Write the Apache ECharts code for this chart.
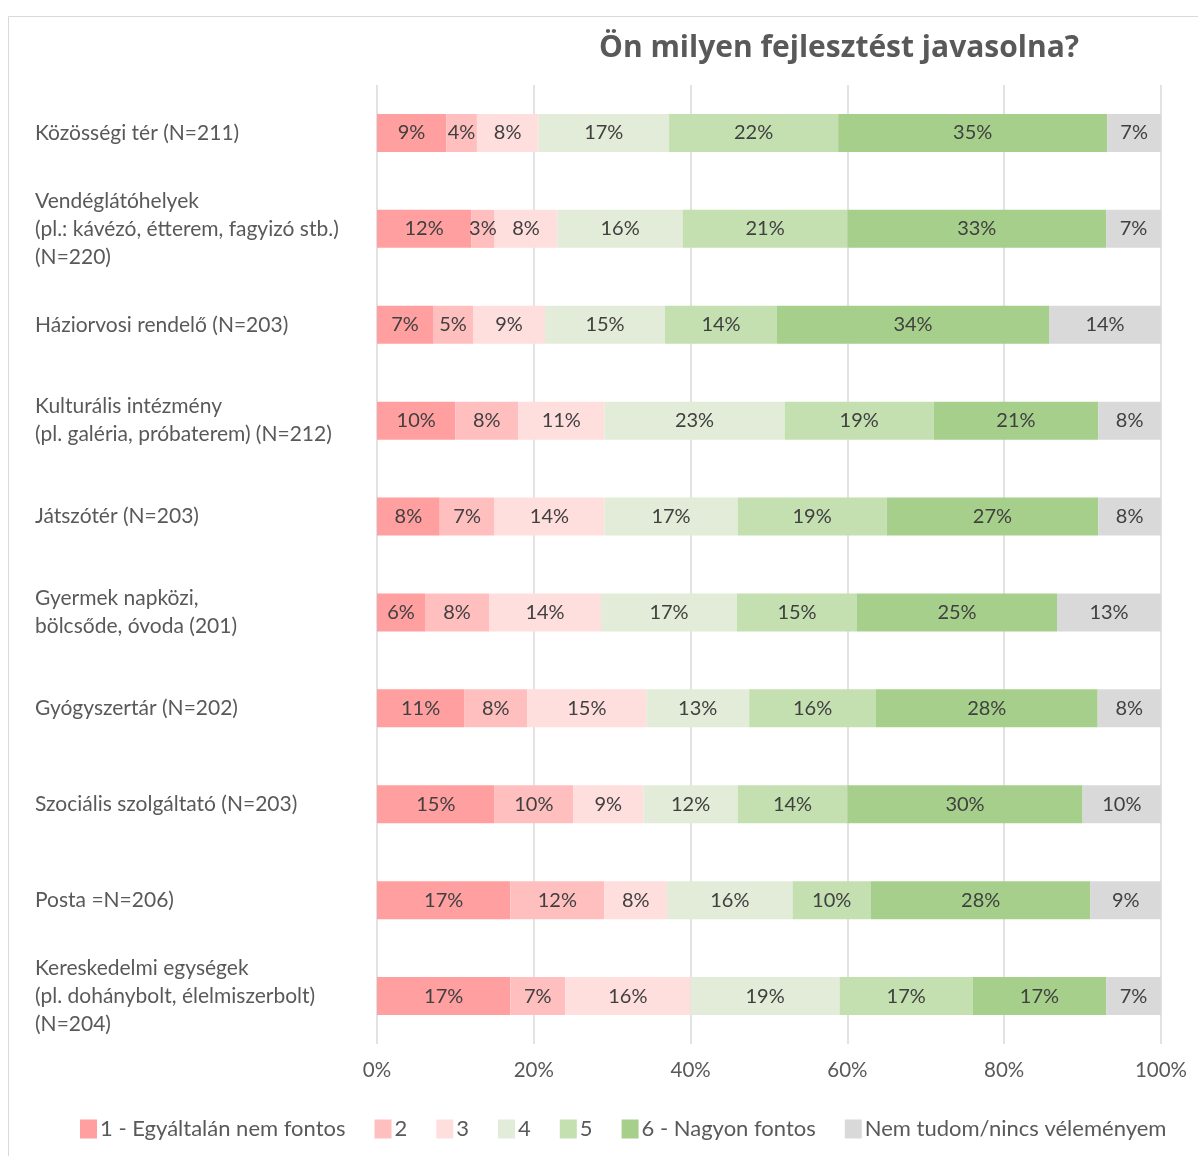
<!DOCTYPE html>
<html>
<head>
<meta charset="utf-8">
<script src="https://cdn.jsdelivr.net/npm/echarts@6/dist/echarts.min.js"></script>
<style>
  html, body { margin: 0; padding: 0; background: #fff; }
  #chart { width: 1198px; height: 1156px; }
</style>
</head>
<body>
<div id="chart"></div>
<script>
// kategóriák (fentről lefelé)
const categories = [
  'Közösségi tér (N=211)',
  'Vendéglátóhelyek\n(pl.: kávézó, étterem, fagyizó stb.)\n(N=220)',
  'Háziorvosi rendelő (N=203)',
  'Kulturális intézmény\n(pl. galéria, próbaterem) (N=212)',
  'Játszótér (N=203)',
  'Gyermek napközi,\nbölcsőde, óvoda (201)',
  'Gyógyszertár (N=202)',
  'Szociális szolgáltató (N=203)',
  'Posta =N=206)',
  'Kereskedelmi egységek\n(pl. dohánybolt, élelmiszerbolt)\n(N=204)'
];

const seriesNames = ['1 - Egyáltalán nem fontos', '2', '3', '4', '5', '6 - Nagyon fontos', 'Nem tudom/nincs véleményem'];
const colors = ['#FF9F9F', '#FFBFBF', '#FFDEDE', '#E2ECD8', '#C4DFB0', '#A6CF8B', '#D9D9D9'];

const level1 = [9, 12, 7, 10, 8, 6, 11, 15, 17, 17];
const level2 = [4, 3, 5, 8, 7, 8, 8, 10, 12, 7];
const level3 = [8, 8, 9, 11, 14, 14, 15, 9, 8, 16];
const level4 = [17, 16, 15, 23, 17, 17, 13, 12, 16, 19];
const level5 = [22, 21, 14, 19, 19, 15, 16, 14, 10, 17];
const level6 = [35, 33, 34, 21, 27, 25, 28, 30, 28, 17];
const noOpinion = [7, 7, 14, 8, 8, 13, 8, 10, 9, 7];

const xTicks = [0, 20, 40, 60, 80, 100];

const levels = [level1, level2, level3, level4, level5, level6, noOpinion];
// 100%-os halmozás: soronként normalizálva
const totals = categories.map((c, i) => levels.reduce((s, arr) => s + arr[i], 0));

const font = 'Lato, "Open Sans", sans-serif';

const chart = echarts.init(document.getElementById('chart'));
chart.setOption({
  backgroundColor: '#fff',
  animation: false,
  textStyle: { fontFamily: font },
  title: {
    text: 'Ön milyen fejlesztést javasolna?',
    left: 594,
    top: 28,
    textStyle: { fontFamily: '"Open Sans", sans-serif', fontSize: 30, fontWeight: 'bold', color: '#595959' }
  },
  graphic: [{
    type: 'rect',
    shape: { x: 8.5, y: 16.5, width: 1210, height: 1160 },
    style: { fill: 'none', stroke: '#D9D9D9', lineWidth: 1 },
    silent: true
  }],
  legend: {
    data: seriesNames,
    left: 75,
    top: 1113,
    icon: 'rect',
    itemWidth: 17,
    itemHeight: 19,
    itemGap: 29,
    textStyle: { fontFamily: font, fontSize: 22, color: '#595959', padding: [0, 0, 0, -2] }
  },
  grid: { left: 377, right: 37, top: 85, height: 959 },
  xAxis: {
    type: 'value',
    min: 0,
    max: 100,
    interval: 20,
    axisLine: { show: false },
    axisTick: { show: false },
    splitLine: { lineStyle: { color: '#D9D9D9', width: 1.5 } },
    axisLabel: {
      formatter: v => (xTicks.includes(v) ? v + '%' : ''),
      fontFamily: font,
      fontSize: 20.5,
      color: '#595959',
      margin: 16
    }
  },
  yAxis: {
    type: 'category',
    data: categories,
    inverse: true,
    axisLine: { show: false },
    axisTick: { show: false },
    axisLabel: {
      align: 'left',
      margin: 342,
      fontFamily: font,
      fontSize: 21,
      lineHeight: 28,
      color: '#595959'
    }
  },
  series: levels.map((arr, k) => ({
    name: seriesNames[k],
    type: 'bar',
    stack: 'total',
    barWidth: 38,
    itemStyle: { color: colors[k] },
    label: {
      show: true,
      position: 'inside',
      fontFamily: font,
      fontSize: 20,
      color: '#404040',
      formatter: p => arr[p.dataIndex] + '%'
    },
    data: arr.map((v, i) => v / totals[i] * 100)
  }))
});
</script>
</body>
</html>
